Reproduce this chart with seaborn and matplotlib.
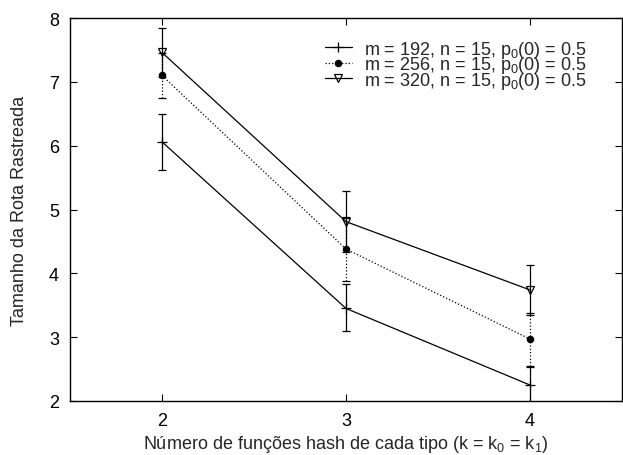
import matplotlib
matplotlib.use("Agg")
import matplotlib.pyplot as plt
import seaborn as sns
import numpy as np
import pandas as pd
from matplotlib.lines import Line2D

k_values = [2, 3, 4]
labels = ["m = 192, n = 15, p$_0$(0) = 0.5",
          "m = 256, n = 15, p$_0$(0) = 0.5",
          "m = 320, n = 15, p$_0$(0) = 0.5"]
mean_192 = [6.06, 3.45, 2.25]
low_192 = [5.62, 3.10, 1.97]
high_192 = [6.50, 3.83, 2.53]
mean_256 = [7.10, 4.38, 2.97]
low_256 = [6.75, 3.88, 2.55]
high_256 = [7.45, 4.88, 3.38]
mean_320 = [7.46, 4.81, 3.74]
low_320 = [7.08, 4.33, 3.35]
high_320 = [7.84, 5.29, 4.13]

sns.set_theme(style="ticks")
plt.rcParams['font.family'] = ['Liberation Sans', 'DejaVu Sans']
plt.rcParams['mathtext.default'] = 'regular'

fig = plt.figure(figsize=(6.23, 4.56), dpi=100)
ax = fig.add_axes([70/623, 54/456, 552/623, 383/456])

series = [
    (mean_192, low_192, high_192, '+', '-', 'black', 7, labels[0]),
    (mean_256, low_256, high_256, 'o', ':', 'black', 4.5, labels[1]),
    (mean_320, low_320, high_320, 'v', '-', 'none', 5.5, labels[2]),
]

handles = []
for mean, lo, hi, mk, ls, mfc, ms, lab in series:
    df = pd.DataFrame({"k": k_values, "v": mean})
    sns.lineplot(data=df, x="k", y="v", ax=ax, color="black", linestyle=ls,
                 linewidth=0.9, marker=mk, markersize=ms, markerfacecolor=mfc,
                 markeredgecolor="black", markeredgewidth=0.9, legend=False)
    yerr = [np.array(mean) - np.array(lo), np.array(hi) - np.array(mean)]
    eb = ax.errorbar(k_values, mean, yerr=yerr, fmt='none', ecolor='black',
                     elinewidth=0.9, capsize=3, capthick=0.9)
    for c in eb[2]:
        c.set_linestyle(ls)
    handles.append(Line2D([0], [0], color='black', linestyle=ls, linewidth=0.9,
                          marker=mk, markersize=ms, markerfacecolor=mfc,
                          markeredgecolor='black', markeredgewidth=0.9, label=lab))

ax.set_xlim(1.5, 4.5)
ax.set_ylim(2, 8)
ax.set_xticks(k_values)
ax.set_yticks([2, 3, 4, 5, 6, 7, 8])
ax.tick_params(direction='in', top=True, right=True, length=5, width=0.8,
               labelsize=13, colors='black', pad=8)
for s in ax.spines.values():
    s.set_linewidth(1.0)
    s.set_color('black')

ax.set_xlabel("Número de funções hash de cada tipo (k = k$_0$ = k$_1$)", fontsize=13, labelpad=3)
ax.set_ylabel("Tamanho da Rota Rastreada", fontsize=13, labelpad=15)

leg = ax.legend(handles=handles, loc='upper left', bbox_to_anchor=(0.448, 0.965),
                frameon=False, fontsize=13, labelspacing=-0.3, handlelength=1.5,
                handletextpad=0.7, borderaxespad=0)

fig.savefig("out.png", dpi=100)
